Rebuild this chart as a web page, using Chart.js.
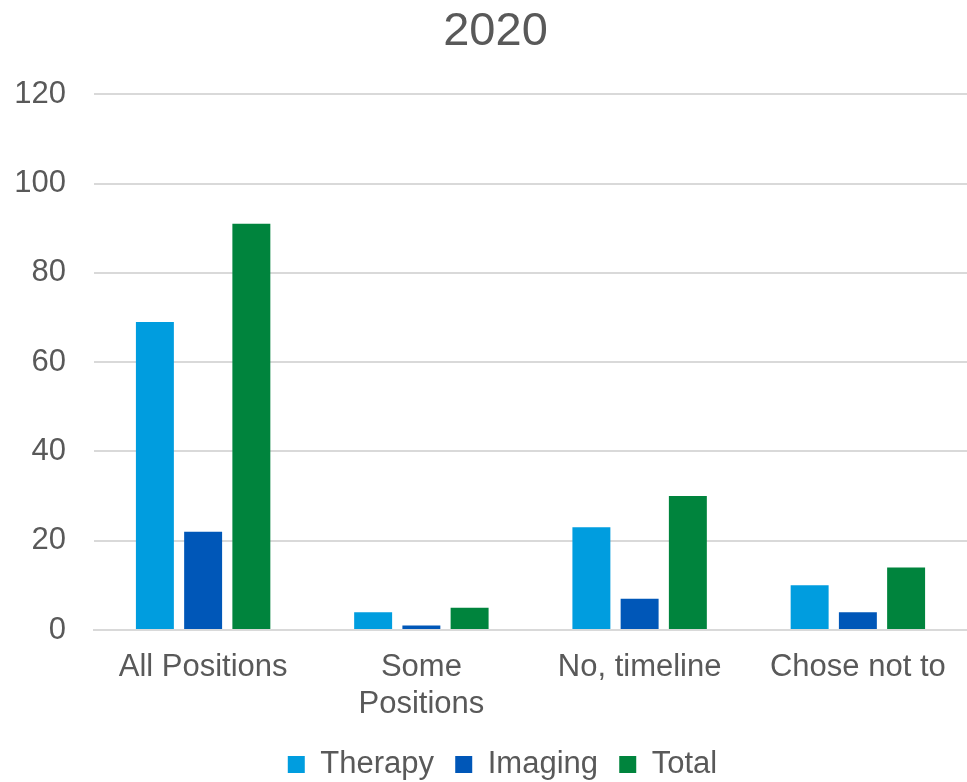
<!DOCTYPE html>
<html><head><meta charset="utf-8">
<script src="https://cdn.jsdelivr.net/npm/chart.js@4"></script>
<style>html,body{margin:0;padding:0;background:#fff}#wrap{width:967px;height:782px}</style>
</head><body><div id="wrap"><canvas id="c" width="967" height="782"></canvas></div>
<script>
const categories = [["All Positions"], ["Some", "Positions"], ["No, timeline"], ["Chose not to"]];
const therapy = [69, 4, 23, 10];
const imaging = [22, 1, 7, 4];
const total = [91, 5, 30, 14];
const yTicks = [0, 20, 40, 60, 80, 100, 120];
const FONT = "'Liberation Sans', Arial, sans-serif";
const nudge = {
  id: 'nudge',
  afterLayout(chart) {
    const lg = chart.legend;
    if (lg) { lg.left += 19; lg.right += 19; lg.top += 8; lg.bottom += 8; }
    const tb = chart.titleBlock;
    if (tb) { tb.left += 12; tb.right += 12; }
  }
};
new Chart(document.getElementById('c'), {
  type: 'bar',
  data: {
    labels: categories,
    datasets: [
      {label: 'Therapy', data: therapy, backgroundColor: '#009DDF'},
      {label: 'Imaging', data: imaging, backgroundColor: '#0057B8'},
      {label: 'Total', data: total, backgroundColor: '#00843D'}
    ]
  },
  plugins: [nudge],
  options: {
    responsive: false, animation: false,
    layout: {padding: {left: 0, right: 0, top: 0, bottom: 0}},
    datasets: {bar: {categoryPercentage: 0.663, barPercentage: 0.787}},
    plugins: {
      title: {display: true, text: '2020', color: '#595959', font: {family: FONT, size: 47, weight: 'normal'}, padding: {top: 4, bottom: 34}},
      legend: {
        position: 'bottom',
        labels: {
          color: '#595959', font: {family: FONT, size: 31}, boxWidth: 17, boxHeight: 17, padding: 4,
          generateLabels: chart => {
            const items = Chart.defaults.plugins.legend.labels.generateLabels(chart);
            items.forEach((it, i) => { if (i < items.length - 1) it.text = it.text + '  '; it.lineWidth = 0; });
            return items;
          }
        }
      },
      tooltip: {enabled: false}
    },
    scales: {
      x: {
        afterFit: ax => { ax.height = 107; },
        grid: {display: false, drawTicks: false},
        border: {display: true, color: '#D9D9D9', width: 2},
        ticks: {color: '#595959', font: {family: FONT, size: 31, lineHeight: 1.2}, padding: 19, maxRotation: 0, autoSkip: false}
      },
      y: {
        min: 0, max: 120,
        afterBuildTicks: ax => { ax.ticks = yTicks.map(v => ({value: v})); },
        afterFit: ax => { ax.width = 94; },
        grid: {color: '#D9D9D9', lineWidth: 2, drawTicks: false},
        border: {display: false},
        ticks: {color: '#595959', font: {family: FONT, size: 31}, padding: 28}
      }
    }
  }
});
</script></body></html>
